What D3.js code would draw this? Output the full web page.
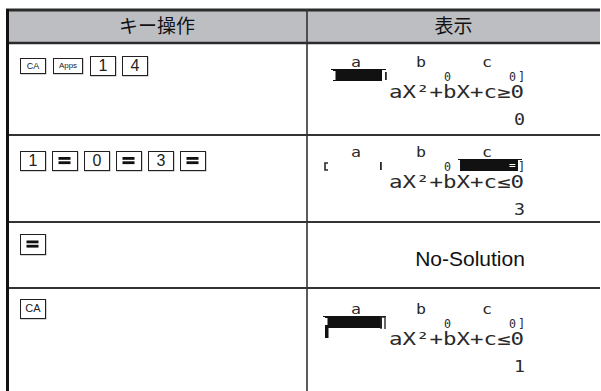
<!DOCTYPE html>
<html><head><meta charset="utf-8">
<script src="https://cdn.jsdelivr.net/npm/d3@7"></script>
<style>html,body{margin:0;padding:0;background:#fff}svg{display:block}</style>
</head><body><script>
// ---- data ----
const headers = ["キー操作", "表示"];
const keySequences = [["CA","Apps","1","4"], ["1","=","0","=","3","="], ["="], ["CA"]];
const fieldLabels = ["a", "b", "c"];
const formulas = ["aX²+bX+c≥0", "aX²+bX+c≤0", "", "aX²+bX+c≤0"];
const results = ["0", "3", "No-Solution", "1"];
const activeField = ["a", "c", "", "a"];

// ---- layout ----
const W = 601, H = 391;
const svg = d3.select("body").append("svg").attr("width", W).attr("height", H);
svg.append("rect").attr("width", W).attr("height", H).attr("fill", "#fff");

const x = d3.scaleOrdinal().domain(headers).range([7, 307]);
const colEnd = d3.scaleOrdinal().domain(headers).range([307, 600]);
const rowTop = d3.scaleOrdinal().domain(d3.range(results.length)).range([43, 135, 222, 288]);
const rowBase = d3.scaleOrdinal().domain(d3.range(results.length)).range([67, 157, 0, 314]);
const fieldX = d3.scaleOrdinal().domain(fieldLabels).range([356, 421, 487]);
const keyBoxTop = d3.scaleOrdinal().domain(d3.range(results.length)).range([57, 152, 235, 299]);

const ink = "#231f20";
const lcd = "#2a2a2a";
const mono = "'DejaVu Sans Mono', monospace";

// header
svg.append("rect").attr("x", 7).attr("y", 10).attr("width", 593).attr("height", 33).attr("fill", "#bdbec2");
svg.selectAll("text.hdr").data(headers).join("text").attr("class", "hdr")
  .attr("x", d => (x(d) + colEnd(d)) / 2).attr("y", 33)
  .attr("text-anchor", "middle").attr("font-family", "'Noto Sans CJK JP'")
  .attr("font-size", 19).attr("fill", "#111").text(d => d);

// grid lines
svg.append("line").attr("x1", 6).attr("x2", 600).attr("y1", 10).attr("y2", 10).attr("stroke", "#2b2b2b").attr("stroke-width", 3);
svg.append("line").attr("x1", 6).attr("x2", 600).attr("y1", 43).attr("y2", 43).attr("stroke", "#2b2b2b").attr("stroke-width", 2.5);
svg.selectAll("line.row").data(d3.range(1, results.length)).join("line").attr("class", "row")
  .attr("x1", 7).attr("x2", 600).attr("y1", d => rowTop(d)).attr("y2", d => rowTop(d))
  .attr("stroke", "#333").attr("stroke-width", 2);
svg.append("line").attr("x1", 7.5).attr("x2", 7.5).attr("y1", 9).attr("y2", H).attr("stroke", "#111").attr("stroke-width", 3);
svg.append("line").attr("x1", 307).attr("x2", 307).attr("y1", 9).attr("y2", H).attr("stroke", "#333").attr("stroke-width", 1.6);

// keys
const keySpec = {
  "CA": {w: 25, h: 15, fs: 9},
  "Apps": {w: 29, h: 15, fs: 8},
  default: {w: 25, h: 19, fs: 16}
};
keySequences.forEach((seq, r) => {
  let cx = 20;
  seq.forEach(k => {
    let s = keySpec[k] || keySpec.default;
    let h = s.h, fs = s.fs;
    if (r === 3 && k === "CA") { h = 19; fs = 11; }
    if (r === 2) { h = 20; }
    const top = keyBoxTop(r) + (k === "CA" || k === "Apps" ? (r === 3 ? 0 : 1) : -1);
    const g = svg.append("g").attr("transform", `translate(${cx},${top})`);
    g.append("rect").attr("x", 1).attr("y", 1).attr("width", s.w).attr("height", h).attr("fill", "none").attr("stroke", "#aaa").attr("stroke-width", 1);
    g.append("rect").attr("x", 0.5).attr("y", 0.5).attr("width", s.w).attr("height", h).attr("fill", "#fff").attr("stroke", ink).attr("stroke-width", 1);
    if (k === "=") {
      [h / 2 - 3.5, h / 2 + 0.8].forEach(yy =>
        g.append("rect").attr("x", s.w / 2 - 6).attr("y", yy).attr("width", 12).attr("height", 2.8).attr("fill", "#111"));
    } else {
      g.append("text").attr("x", s.w / 2 + 0.5).attr("y", h / 2 + fs * 0.36)
        .attr("text-anchor", "middle").attr("font-family", "'Liberation Sans', Arial")
        .attr("font-size", fs).attr("fill", "#222").text(k);
    }
    cx += s.w + (k === "CA" ? 8 : k === "Apps" ? 8 : 7);
  });
});

// display column
results.forEach((res, r) => {
  const g = svg.append("g");
  if (!formulas[r]) {
    g.append("text").attr("x", 470).attr("y", rowTop(r) + 44)
      .attr("text-anchor", "middle").attr("font-family", "'Liberation Sans', Arial")
      .attr("font-size", 21).attr("fill", "#111").text(res);
    return;
  }
  const b = rowBase(r);
  // field labels
  g.selectAll("text.lbl").data(fieldLabels).join("text")
    .attr("x", d => fieldX(d) - 5).attr("y", b).attr("textLength", 10).attr("lengthAdjust", "spacingAndGlyphs")
    .attr("font-family", mono).attr("font-size", 14).attr("fill", lcd).text(d => d);
  // active field bar
  const af = activeField[r];
  const barL = af === "a" ? (r === 0 ? 333 : 325) : 460;
  const barR = af === "a" ? 382 : 518;
  g.append("line").attr("x1", barL - 2).attr("x2", barR + 4).attr("y1", b + 2.5).attr("y2", b + 2.5).attr("stroke", "#111").attr("stroke-width", 1);
  g.append("rect").attr("x", barL).attr("y", b + 3).attr("width", barR - barL).attr("height", 11).attr("fill", "#111");
  if (af === "a") {
    g.append("rect").attr("x", barL).attr("y", b + 4).attr("width", 2.5).attr("height", 9).attr("fill", "#fff");
    if (r === 0) {
      g.append("rect").attr("x", 385).attr("y", b + 5).attr("width", 1.8).attr("height", 8).attr("fill", lcd);
    } else {
      g.append("path").attr("d", `M381,${b + 15}V${b + 3}H385V${b + 15}`).attr("fill", "none").attr("stroke", lcd).attr("stroke-width", 1.4);
      g.append("rect").attr("x", 325).attr("y", b + 11).attr("width", 3.5).attr("height", 13).attr("fill", "#111");
    }
  } else {
    g.append("path").attr("d", `M328,${b + 6}H325V${b + 13}H328`).attr("fill", "none").attr("stroke", lcd).attr("stroke-width", 1.6);
    g.append("rect").attr("x", 380).attr("y", b + 5).attr("width", 1.8).attr("height", 8).attr("fill", lcd);
    g.append("text").attr("x", 509).attr("y", b + 12).attr("font-family", mono).attr("font-size", 11).attr("fill", "#fff").text("=");
  }
  // small zero placeholders and closing bracket
  if (af !== "b") g.append("text").attr("x", 444).attr("y", b + 14).attr("textLength", 7).attr("lengthAdjust", "spacingAndGlyphs").attr("font-family", mono).attr("font-size", 12).attr("fill", lcd).text("0");
  if (af !== "c") g.append("text").attr("x", 509).attr("y", b + 14).attr("textLength", 7).attr("lengthAdjust", "spacingAndGlyphs").attr("font-family", mono).attr("font-size", 12).attr("fill", lcd).text("0");
  g.append("text").attr("x", 518).attr("y", b + 14).attr("font-family", mono).attr("font-size", 12).attr("fill", lcd).text("]");
  // formula
  g.append("text").attr("x", 389).attr("y", b + 31).attr("font-family", mono).attr("font-size", 17)
    .attr("textLength", 135).attr("lengthAdjust", "spacingAndGlyphs").attr("fill", lcd).text(formulas[r]);
  // result
  g.append("text").attr("x", 514).attr("y", b + 58).attr("textLength", 11).attr("lengthAdjust", "spacingAndGlyphs")
    .attr("font-family", mono).attr("font-size", 16).attr("fill", lcd).text(res);
});
</script></body></html>
